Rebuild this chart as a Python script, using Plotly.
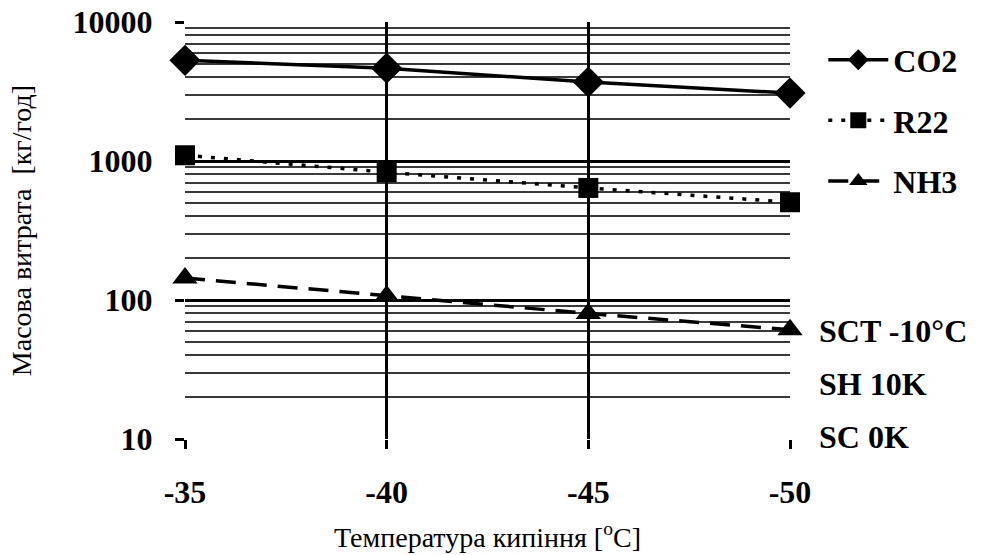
import math
import plotly.graph_objects as go

# Boiling temperature, °C
temps = [-35, -40, -45, -50]

# Mass flow rate, kg/h
co2 = [5300, 4650, 3700, 3080]
r22 = [1100, 830, 640, 505]
nh3 = [144, 107, 80, 61]

series = [
    ("CO2", co2, "solid", "diamond", 24),
    ("R22", r22, "4px,9px", "square", 20),
    ("NH3", nh3, "20px,11px", "triangle-up", 22),
]

notes = ["SCT -10°C", "SH 10K", "SC 0K"]
note_vals = [60, 25, 10.3]

serif = "Liberation Serif, Times New Roman, serif"

fig = go.Figure()
for name, vals, dash, sym, msize in series:
    fig.add_trace(go.Scatter(
        x=temps, y=vals, name=name, mode="lines+markers",
        line=dict(color="black", width=3.5, dash=dash),
        marker=dict(symbol=sym, size=msize, color="black"),
        cliponaxis=False, legendgroup=name,
    ))

# minor gridlines at every 2..9 multiple of each decade
minor_vals = [m * 10 ** d for d in range(1, 4) for m in range(2, 10)]

fig.update_layout(
    width=987, height=555,
    margin=dict(l=185, r=197, t=22, b=116),
    paper_bgcolor="white", plot_bgcolor="white",
    font=dict(family=serif, color="black"),
    showlegend=True,
    legend=dict(
        x=1.055, y=0.975, xanchor="left", yanchor="top",
        font=dict(family=serif, size=32, color="black", weight="bold"),
        tracegroupgap=16, itemwidth=60, bgcolor="rgba(0,0,0,0)",
    ),
)

fig.update_xaxes(
    range=[-35, -50], tickvals=temps, ticktext=[str(t) for t in temps],
    automargin=False,
    showgrid=True, gridcolor="black", gridwidth=3,
    zeroline=False, showline=False,
    ticks="outside", ticklen=9, tickwidth=3, tickcolor="black",
    ticklabelstandoff=16,
    tickfont=dict(family=serif, size=32, color="black", weight="bold"),
    title=dict(text="Температура кипіння [<sup>o</sup>C]",
               font=dict(family=serif, size=28, color="black"), standoff=17),
)

fig.update_yaxes(
    type="log", range=[1, 4],
    tickvals=[10, 100, 1000, 10000], ticktext=["10", "100", "1000", "10000"],
    automargin=False,
    showgrid=True, gridcolor="black", gridwidth=3,
    minor=dict(tickvals=minor_vals, showgrid=True, gridcolor="#3a3a3a",
               gridwidth=2, ticks=""),
    zeroline=False, showline=False,
    ticks="outside", ticklen=9, tickwidth=3, tickcolor="black",
    ticklabelstandoff=16,
    tickfont=dict(family=serif, size=32, color="black", weight="bold"),
    title=dict(text="Масова витрата  [кг/год]",
               font=dict(family=serif, size=28, color="black"), standoff=32),
)

# operating conditions, placed against the y axis (log units)
for txt, v in zip(notes, note_vals):
    fig.add_annotation(
        x=1.045, xref="paper", y=math.log10(v), yref="y",
        xanchor="left", yanchor="middle",
        text=txt, showarrow=False,
        font=dict(family=serif, size=32, color="black", weight="bold"),
    )

fig.write_html("out.html")
